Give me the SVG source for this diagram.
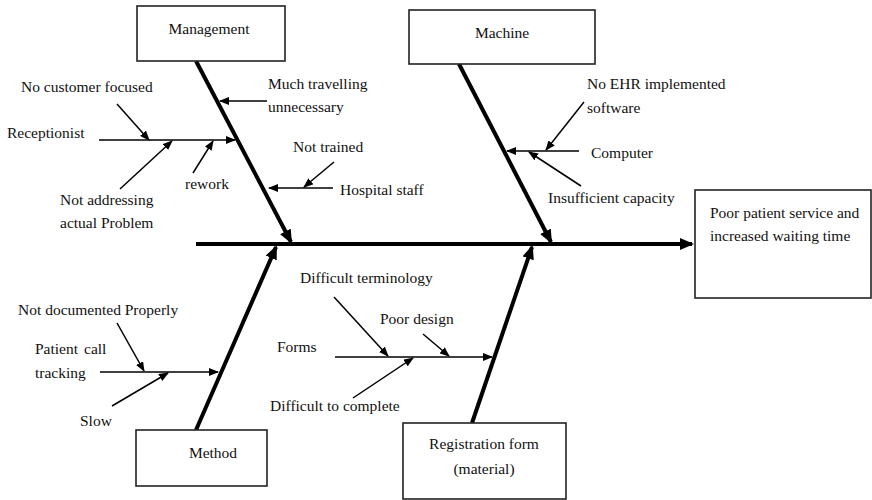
<svg xmlns="http://www.w3.org/2000/svg" width="872" height="500" viewBox="0 0 872 500">
<style>
text{font-family:'Liberation Serif','Times New Roman',serif;font-size:15.5px;fill:#111}
.box{fill:#fff;stroke:#222;stroke-width:1.6}
.c{text-anchor:middle}
.bone{stroke:#000;stroke-width:4;fill:none}
.thin{stroke:#000;stroke-width:1.5;fill:none}
</style>
<defs>
<marker id="ah" viewBox="0 0 10 8" refX="9" refY="4" markerWidth="10" markerHeight="8" markerUnits="userSpaceOnUse" orient="auto"><path d="M0,0 L10,4 L0,8 z" fill="#000"/></marker>
<marker id="ahb" viewBox="0 0 14 12" refX="12" refY="6" markerWidth="14" markerHeight="12" markerUnits="userSpaceOnUse" orient="auto"><path d="M0,0 L14,6 L0,12 z" fill="#000"/></marker>
</defs>
<g id="connectors">
<line class="bone" x1="196" y1="244" x2="692" y2="244" marker-end="url(#ahb)"/>
<line class="bone" x1="196" y1="61" x2="291" y2="242" marker-end="url(#ahb)"/>
<line class="bone" x1="459" y1="64" x2="551" y2="242" marker-end="url(#ahb)"/>
<line class="bone" x1="196" y1="430" x2="276" y2="247" marker-end="url(#ahb)"/>
<line class="bone" x1="472" y1="423" x2="532" y2="247" marker-end="url(#ahb)"/>
<line class="thin" x1="267" y1="101" x2="220" y2="101" marker-end="url(#ah)"/>
<line class="thin" x1="99" y1="140" x2="235" y2="140" marker-end="url(#ah)"/>
<line class="thin" x1="117" y1="104" x2="149" y2="140" marker-end="url(#ah)"/>
<line class="thin" x1="120" y1="189" x2="172" y2="141" marker-end="url(#ah)"/>
<line class="thin" x1="193" y1="173" x2="213" y2="141" marker-end="url(#ah)"/>
<line class="thin" x1="333" y1="188" x2="269" y2="188" marker-end="url(#ah)"/>
<line class="thin" x1="334" y1="162" x2="304" y2="187" marker-end="url(#ah)"/>
<line class="thin" x1="579" y1="151" x2="507" y2="151" marker-end="url(#ah)"/>
<line class="thin" x1="584" y1="102" x2="546" y2="150" marker-end="url(#ah)"/>
<line class="thin" x1="581" y1="186" x2="529" y2="152" marker-end="url(#ah)"/>
<line class="thin" x1="100" y1="372" x2="218" y2="372" marker-end="url(#ah)"/>
<line class="thin" x1="117" y1="323" x2="144" y2="371" marker-end="url(#ah)"/>
<line class="thin" x1="112" y1="406" x2="168" y2="373" marker-end="url(#ah)"/>
<line class="thin" x1="335" y1="357" x2="492" y2="357" marker-end="url(#ah)"/>
<line class="thin" x1="334" y1="297" x2="388" y2="356" marker-end="url(#ah)"/>
<line class="thin" x1="423" y1="334" x2="449" y2="356" marker-end="url(#ah)"/>
<line class="thin" x1="353" y1="398" x2="413" y2="358" marker-end="url(#ah)"/>
</g>
<g id="management"><rect class="box" x="137" y="6" width="148" height="55"/><text class="c" x="209" y="34">Management</text></g>
<g id="machine"><rect class="box" x="409" y="10" width="186" height="54"/><text class="c" x="502" y="38">Machine</text></g>
<g id="method"><rect class="box" x="136" y="430" width="131" height="56"/><text class="c" x="213" y="458">Method</text></g>
<g id="registration"><rect class="box" x="403" y="423" width="163" height="76"/><text class="c" x="484" y="449">Registration form</text><text class="c" x="484" y="474">(material)</text></g>
<g id="effect"><rect class="box" x="695" y="190" width="176" height="108"/><text x="710" y="218">Poor patient service and</text><text x="710" y="241">increased waiting time</text></g>
<g id="causes">
<text x="268" y="89">Much travelling</text><text x="268" y="112">unnecessary</text>
<text x="21" y="92">No customer focused</text>
<text x="7" y="138">Receptionist</text>
<text x="60" y="205">Not addressing</text><text x="60" y="228">actual Problem</text>
<text x="185" y="189">rework</text>
<text x="293" y="152">Not trained</text>
<text x="340" y="195">Hospital staff</text>
<text x="587" y="89">No EHR implemented</text><text x="587" y="113">software</text>
<text x="591" y="158">Computer</text>
<text x="548" y="203">Insufficient capacity</text>
<text x="18" y="315">Not documented Properly</text>
<text x="35" y="354">Patient <tspan x="84">call</tspan></text><text x="35" y="378">tracking</text>
<text x="80" y="426">Slow</text>
<text x="300" y="283">Difficult terminology</text>
<text x="380" y="324">Poor design</text>
<text x="277" y="352">Forms</text>
<text x="270" y="411">Difficult to complete</text>
</g>
</svg>
